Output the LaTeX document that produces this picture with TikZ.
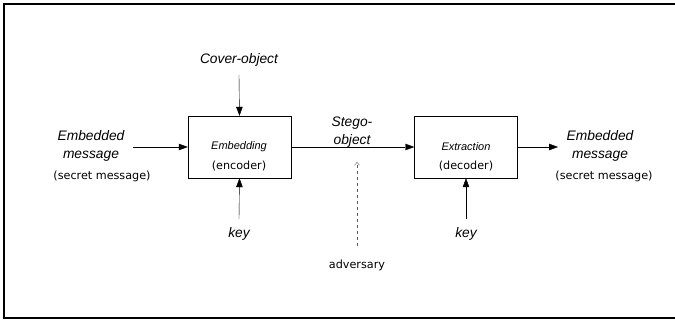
\documentclass[tikz,border=0pt]{standalone}
\usepackage{fontspec}
\setmainfont{Liberation Sans}
\newfontfamily\handfont{DejaVu Sans}
\usetikzlibrary{arrows.meta, positioning, calc}
\tikzset{
    stagebox/.style={draw, thin, minimum width=103pt, minimum height=62pt},
    label/.style={font=\itshape\fontsize{13.8}{17.5}\selectfont, align=center, inner sep=1pt},
    stagename/.style={font=\itshape\fontsize{11}{13}\selectfont, inner sep=1pt},
    note/.style={font=\handfont\fontsize{11.2}{13}\selectfont, inner sep=1pt},
    flow/.style={-{Triangle[length=9pt,width=6.5pt]}, thin},
}

\begin{document}
\begin{tikzpicture}[x=1pt, y=-1pt]
    \useasboundingbox (0,0) rectangle (675,320);
    \draw[line width=2.5pt] (675,4) -- (4,4) -- (4,318) -- (675,318);

    % the two stages
    \node[stagebox] (enc) at (239.5,147) {};
    \node[stagebox] (dec) at (466,147) {};
    \node[stagename] (encname) at (239,147) {Embedding};
    \node[note] (enctype) at (239,166) {(encoder)};
    \node[stagename] (decname) at (466,147) {Extraction};
    \node[note] (dectype) at (466,166) {(decoder)};

    % inputs and outputs
    \node[label] (msgin) at (91,146) {Embedded\\message};
    \node[note] (secin) at (102,176) {(secret message)};
    \node[label] (msgout) at (600,146) {Embedded\\message};
    \node[note] (secout) at (604,176) {(secret message)};
    \node[label] (cover) at (239,60) {Cover-object};
    \node[label] (stego) at (352,132) {Stego-\\object};
    \node[label] (keyenc) at (239,234) {key};
    \node[label] (keydec) at (466,234) {key};
    \node[note] (adv) at (357,265) {adversary};

    \coordinate (inl) at (133,147);
    \coordinate (outr) at (558,147);
    \coordinate (covtop) at (239,75);
    \coordinate (keyenctop) at (239,219);
    \coordinate (keydectop) at (466,219);
    \coordinate (advtop) at (357,162);
    \coordinate (advbot) at (357,246);

    \draw[flow] (inl) -- (enc.west);
    \draw[flow] (enc.east) -- (dec.west);
    \draw[flow] (dec.east) -- (outr);
    \draw[flow] (covtop) -- (enc.north);
    \draw[flow] (keyenctop) -- (enc.south);
    \draw[flow] (keydectop) -- (dec.south);
    \draw[-{Straight Barb[length=3pt,width=5pt]}, thin, dashed, gray!70!black] (advbot) -- (advtop);
\end{tikzpicture}
\end{document}
